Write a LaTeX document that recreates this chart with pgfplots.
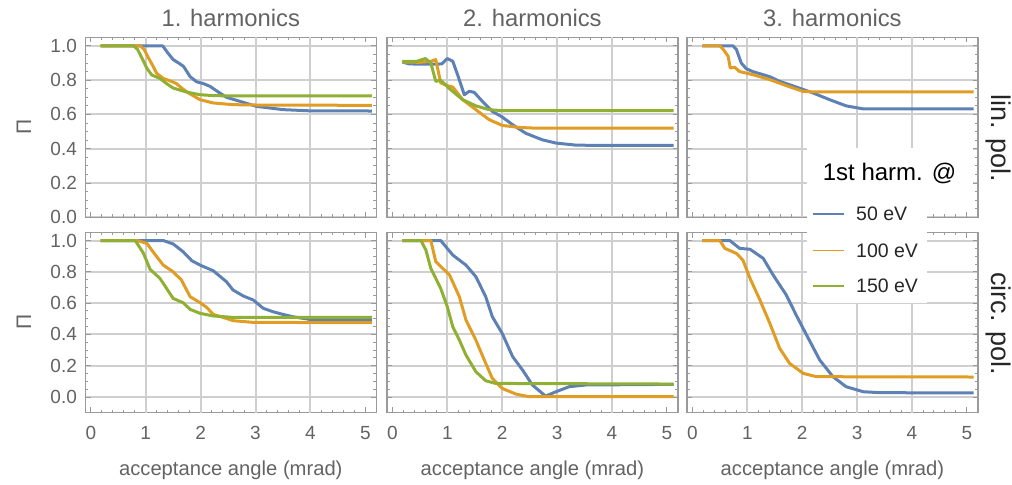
\documentclass[border=0pt]{standalone}
\usepackage{fontspec}
\setmainfont{Liberation Sans}
\usepackage{pgfplots}
\pgfplotsset{compat=1.18}
\definecolor{mblue}{HTML}{5E81B5}
\definecolor{morange}{HTML}{E19C24}
\definecolor{mgreen}{HTML}{8FB032}
\definecolor{framegray}{HTML}{9A9A9A}
\definecolor{gridgray}{HTML}{CFCFCF}
\definecolor{labelgray}{HTML}{636363}
\pgfplotsset{
  panel/.style={
    scale only axis, width=145.5pt, height=90pt, anchor=north west,
    xmin=-0.1, xmax=5.2,
    xtick={0,1,2,3,4,5}, minor x tick num=4,
    ytick={0,0.2,0.4,0.6,0.8,1.0}, minor y tick num=3,
    ymajorgrids=true, xmajorgrids=false,
    extra x ticks={1,2,3,4}, extra x tick labels={},
    extra x tick style={grid=major, major tick length=0pt},
    major grid style={gridgray, line width=1pt},
    axis line style={framegray, line width=0.6pt},
    every tick/.style={framegray, line width=0.5pt},
    tick align=inside, major tick length=2.6pt, minor tick length=1.4pt,
    ticklabel style={font=\fontsize{9.5}{11}\selectfont, text=labelgray, inner sep=0pt},
    /pgf/number format/assume math mode=true,
    yticklabel shift=4pt, xticklabel shift=6.7pt,
    every axis plot/.append style={line width=1.5pt, line join=round, no marks},
  },
  toprow/.style={ymin=0, ymax=1.05, xticklabels={}},
  botrow/.style={ymin=-0.1, ymax=1.05},
  withy/.style={yticklabels={0.0,0.2,0.4,0.6,0.8,1.0}},
  noy/.style={yticklabels={}},
}
\begin{document}
\begin{tikzpicture}
\useasboundingbox (0,0) rectangle (506pt,-242.5pt);
% ---------------- top row: lin. pol.
\begin{axis}[panel, toprow, withy, at={(42.65pt,-18.65pt)}]
\addplot[mblue] coordinates {(0.18,1)(1.31,1)(1.40,0.96)(1.50,0.92)(1.60,0.90)(1.69,0.88)(1.81,0.82)(1.93,0.79)(2.05,0.78)(2.17,0.764)(2.35,0.725)(2.47,0.70)(2.72,0.676)(3.02,0.647)(3.5,0.628)(3.99,0.621)(5.12,0.62)};
\addplot[morange] coordinates {(0.18,1)(0.9,1)(0.97,0.98)(1.05,0.93)(1.12,0.89)(1.2,0.84)(1.32,0.81)(1.45,0.795)(1.56,0.78)(1.67,0.75)(1.78,0.725)(1.99,0.686)(2.23,0.667)(2.59,0.657)(3.02,0.655)(5.12,0.653)};
\addplot[mgreen] coordinates {(0.18,1)(0.78,1)(0.85,0.98)(0.96,0.91)(1.02,0.87)(1.11,0.83)(1.26,0.81)(1.38,0.78)(1.5,0.754)(1.75,0.73)(1.99,0.715)(2.23,0.71)(2.5,0.708)(5.12,0.708)};
\end{axis}
\begin{axis}[panel, toprow, noy, at={(193.45pt,-18.65pt)}]
\addplot[mblue] coordinates {(0.18,0.906)(0.3,0.895)(0.5,0.893)(0.8,0.893)(0.9,0.895)(1.0,0.926)(1.1,0.91)(1.2,0.82)(1.31,0.715)(1.4,0.735)(1.49,0.729)(1.64,0.676)(1.82,0.618)(2.0,0.585)(2.19,0.54)(2.43,0.49)(2.73,0.452)(2.98,0.433)(3.34,0.421)(3.82,0.419)(5.12,0.419)};
\addplot[morange] coordinates {(0.18,0.906)(0.5,0.904)(0.7,0.91)(0.79,0.92)(0.88,0.784)(1.0,0.768)(1.1,0.76)(1.28,0.686)(1.52,0.628)(1.76,0.57)(2.0,0.536)(2.31,0.524)(2.61,0.52)(5.12,0.52)};
\addplot[mgreen] coordinates {(0.18,0.91)(0.45,0.91)(0.6,0.926)(0.7,0.9)(0.79,0.793)(0.88,0.80)(1.04,0.75)(1.28,0.686)(1.52,0.65)(1.76,0.628)(2.0,0.622)(5.12,0.622)};
\end{axis}
\begin{axis}[panel, toprow, noy, at={(343.45pt,-18.65pt)}]
\addplot[mblue] coordinates {(0.18,1)(0.74,1)(0.8,0.98)(0.89,0.90)(0.98,0.867)(1.1,0.85)(1.41,0.82)(1.59,0.793)(1.89,0.76)(2.2,0.725)(2.5,0.686)(2.8,0.65)(3.1,0.633)(3.4,0.632)(5.12,0.632)};
\addplot[morange] coordinates {(0.18,1)(0.5,1)(0.56,0.98)(0.65,0.94)(0.69,0.871)(0.77,0.875)(0.86,0.85)(1.1,0.832)(1.41,0.803)(1.71,0.768)(2.01,0.735)(2.2,0.731)(5.12,0.731)};
\end{axis}
% ---------------- bottom row: circ. pol.
\begin{axis}[panel, botrow, withy, at={(42.65pt,-116.35pt)}]
\addplot[mblue] coordinates {(0.18,1)(1.32,1)(1.5,0.978)(1.68,0.929)(1.84,0.871)(1.99,0.843)(2.23,0.807)(2.47,0.737)(2.59,0.684)(2.78,0.645)(2.96,0.62)(3.14,0.567)(3.32,0.545)(3.5,0.528)(3.68,0.513)(3.99,0.496)(5.12,0.492)};
\addplot[morange] coordinates {(0.18,1)(0.84,1)(1.02,0.982)(1.2,0.897)(1.32,0.843)(1.5,0.8)(1.65,0.748)(1.81,0.641)(1.99,0.603)(2.11,0.573)(2.23,0.528)(2.41,0.509)(2.59,0.488)(2.96,0.477)(5.12,0.475)};
\addplot[mgreen] coordinates {(0.18,1)(0.81,1)(0.96,0.918)(1.08,0.816)(1.26,0.758)(1.38,0.694)(1.5,0.63)(1.68,0.603)(1.81,0.56)(1.99,0.535)(2.23,0.518)(2.59,0.509)(5.12,0.509)};
\end{axis}
\begin{axis}[panel, botrow, noy, at={(193.45pt,-116.35pt)}]
\addplot[mblue] coordinates {(0.18,1)(0.88,1)(1.1,0.907)(1.34,0.843)(1.52,0.769)(1.7,0.641)(1.82,0.513)(2.0,0.407)(2.19,0.258)(2.37,0.173)(2.55,0.077)(2.79,0.006)(2.98,0.034)(3.22,0.066)(3.52,0.077)(5.12,0.081)};
\addplot[morange] coordinates {(0.18,1)(0.7,1)(0.79,0.865)(1.04,0.78)(1.22,0.641)(1.34,0.492)(1.52,0.364)(1.7,0.215)(1.82,0.119)(2.0,0.055)(2.25,0.019)(2.49,0.002)(5.12,0.002)};
\addplot[mgreen] coordinates {(0.18,1)(0.52,1)(0.61,0.939)(0.7,0.822)(0.88,0.694)(1.0,0.577)(1.1,0.449)(1.22,0.364)(1.34,0.268)(1.52,0.162)(1.7,0.104)(1.88,0.087)(5.12,0.083)};
\end{axis}
\begin{axis}[panel, botrow, noy, at={(343.45pt,-116.35pt)}]
\addplot[mblue] coordinates {(0.18,1)(0.68,1)(0.86,0.95)(1.05,0.944)(1.29,0.886)(1.47,0.78)(1.71,0.652)(1.89,0.524)(2.08,0.396)(2.32,0.236)(2.56,0.13)(2.8,0.066)(3.11,0.034)(3.41,0.028)(5.12,0.026)};
\addplot[morange] coordinates {(0.18,1)(0.5,1)(0.59,0.95)(0.8,0.918)(0.92,0.875)(1.05,0.758)(1.23,0.62)(1.41,0.471)(1.59,0.311)(1.77,0.215)(2.02,0.151)(2.26,0.13)(5.12,0.128)};
\end{axis}
% ---------------- titles and labels
\begin{scope}[every node/.style={inner sep=0pt}]
\foreach \cx/\t in {115.4/1, 266.2/2, 416.2/3}{
  \node[anchor=base, text=labelgray, font=\fontsize{11.9}{14}\selectfont] at (\cx pt,-13.5pt) {\t. harmonics};
  \node[anchor=base, text=labelgray, font=\fontsize{10.1}{12}\selectfont] at (\cx pt,-238pt) {acceptance angle (mrad)};
}
\node[rotate=90, text=labelgray, font=\fontsize{10.5}{12}\selectfont] at (12pt,-63.5pt) {Π};
\node[rotate=90, text=labelgray, font=\fontsize{10.5}{12}\selectfont] at (12pt,-161pt) {Π};
\node[rotate=-90, anchor=base, text=black!85, font=\fontsize{13.5}{16}\selectfont] at (495.5pt,-69.25pt) {lin. pol.};
\node[rotate=-90, anchor=base, text=black!85, font=\fontsize{13.5}{16}\selectfont] at (495.5pt,-162pt) {circ. pol.};
% legend
\fill[white] (403.5pt,-74pt) rectangle (486.5pt,-105pt);
\fill[white] (403.5pt,-102pt) rectangle (463.5pt,-151.5pt);
\node[anchor=base, text=black, font=\fontsize{12}{14}\selectfont] at (444.75pt,-90.3pt) {1st harm. @};
\foreach \yy/\c/\lab in {107/mblue/50 eV, 125.3/morange/100 eV, 143/mgreen/150 eV}{
  \draw[\c, line width=0.8pt] (406.3pt,-\yy pt) -- (422.2pt,-\yy pt);
  \node[anchor=west, text=black!85, font=\fontsize{9.75}{12}\selectfont] at (427.9pt,-\yy pt) {\lab};
}
\end{scope}
\end{tikzpicture}
\end{document}
